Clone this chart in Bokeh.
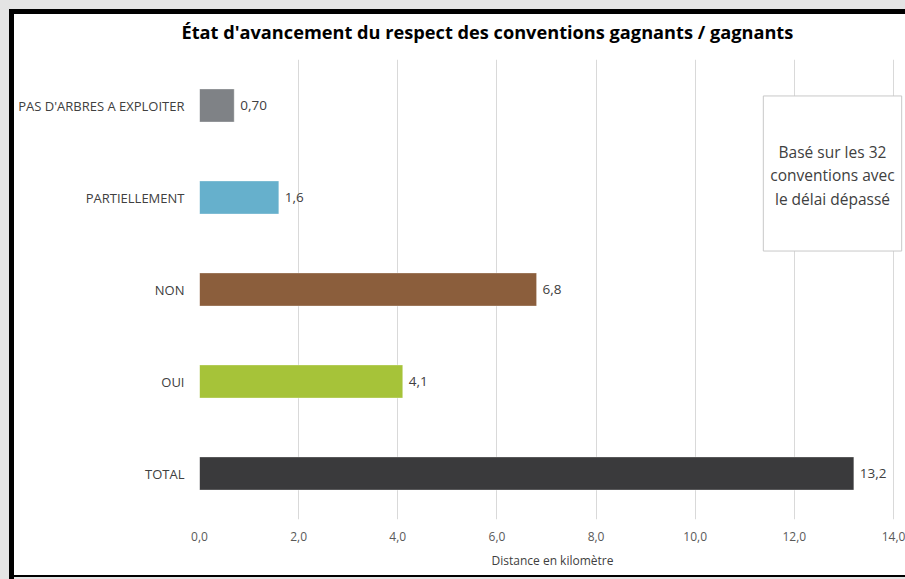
from bokeh.plotting import figure
from bokeh.models import FactorRange, Range1d, Label, ColumnDataSource, FixedTicker, Title
from bokeh.embed import file_html
from bokeh.resources import INLINE
from bokeh.core.properties import value

categories = ["PAS D'ARBRES A EXPLOITER", "PARTIELLEMENT", "NON", "OUI", "TOTAL"]
values = [0.70, 1.6, 6.8, 4.1, 13.2]
value_labels = ["0,70", "1,6", "6,8", "4,1", "13,2"]
colors = ["#7f8286", "#66b0cc", "#8b5e3c", "#a6c339", "#3a3a3c"]
x_ticks = [0, 2, 4, 6, 8, 10, 12, 14]
x_tick_labels = ["0,0", "2,0", "4,0", "6,0", "8,0", "10,0", "12,0", "14,0"]
title_text = "État d'avancement du respect des conventions gagnants / gagnants"
x_axis_label = "Distance en kilomètre"
note_text = "Basé sur les 32\nconventions avec\nle délai dépassé"

FONT = "Open Sans"

src = ColumnDataSource(dict(cat=categories, val=values, lbl=value_labels, color=colors))

p = figure(
    width=905, height=579,
    y_range=FactorRange(*list(reversed(categories)), range_padding=0),
    x_range=Range1d(0, 14.242),
    output_backend="svg", toolbar_location=None,
    min_border_left=199, min_border_right=0, min_border_top=59, min_border_bottom=60,
    styles={
        "background-color": "white",
        "box-shadow": ("inset 9px 9px 0 0 #e4e4e4, inset 14px 14px 0 0 #000000, "
                       "inset 0 -2px 0 0 #e4e4e4, inset 0 -4px 0 0 #000000"),
    },
)
p.outline_line_color = None
p.background_fill_color = "white"
p.border_fill_alpha = 0

t = Title(text=title_text, align="left", offset=-18, standoff=28, vertical_align="top",
          text_font=FONT, text_font_size="18.2px", text_font_style="bold",
          text_color="#000000")
p.add_layout(t, "above")

p.hbar(y="cat", left=0, right="val", height=0.36, color="color",
       line_color="white", line_alpha=0.35, line_width=1, source=src)
p.text(x="val", y="cat", text="lbl", x_offset=6, text_baseline="middle", text_align="left",
       text_font=value(FONT), text_font_size="13.5px", text_color="#404040", source=src)

p.xaxis.ticker = FixedTicker(ticks=x_ticks)
p.xaxis.major_label_overrides = {tk: lb for tk, lb in zip(x_ticks, x_tick_labels)}
p.xaxis.axis_label = x_axis_label
p.xaxis.axis_label_text_font = FONT
p.xaxis.axis_label_text_font_size = "12px"
p.xaxis.axis_label_text_font_style = "normal"
p.xaxis.axis_label_text_color = "#404040"
p.xaxis.axis_label_standoff = 8
p.xaxis.major_label_text_font = FONT
p.xaxis.major_label_text_font_size = "12px"
p.xaxis.major_label_text_color = "#595959"
p.xaxis.major_label_standoff = 12

for ax in (p.xaxis, p.yaxis):
    ax.axis_line_color = None
    ax.major_tick_line_color = None
    ax.minor_tick_line_color = None
    ax.major_tick_out = 0
    ax.minor_tick_out = 0

p.yaxis.major_label_text_font = FONT
p.yaxis.major_label_text_font_size = "13px"
p.yaxis.major_label_text_color = "#404040"
p.yaxis.major_label_standoff = 15

p.xgrid.grid_line_color = "#d9d9d9"
p.ygrid.grid_line_color = None

note = Label(x=633, y=346, x_units="screen", y_units="screen", text=note_text,
             text_align="center", text_baseline="middle", text_font=FONT,
             text_font_size="15.5px", text_color="#404040", text_line_height=1.07,
             border_line_color="#c8c8c8", border_line_width=1,
             background_fill_color="white",
             padding=dict(left=7, right=7, top=45, bottom=41))
p.add_layout(note)

open("out.html", "w").write(file_html(p, INLINE))
